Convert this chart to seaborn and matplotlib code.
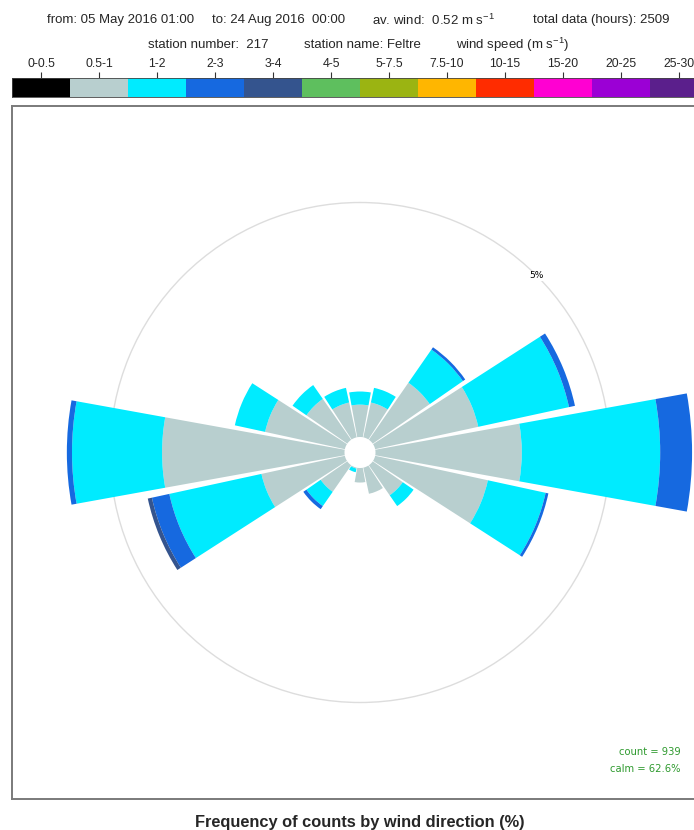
# Wind rose for the Feltre station (217), May-Aug 2016
# Frequency of counts by wind direction, stacked by wind speed class.

import numpy as np
import pandas as pd
import matplotlib
matplotlib.use("Agg")
import matplotlib.pyplot as plt
from matplotlib.colors import ListedColormap
import seaborn as sns

# --- data ---------------------------------------------------------------------

directions = ["N", "NNE", "NE", "ENE", "E", "ESE", "SE", "SSE",
              "S", "SSW", "SW", "WSW", "W", "WNW", "NW", "NNW"]
bearings = [0, 22.5, 45, 67.5, 90, 112.5, 135, 157.5,
            180, 202.5, 225, 247.5, 270, 292.5, 315, 337.5]

speed_bins = ["0-0.5", "0.5-1", "1-2", "2-3", "3-4", "4-5", "5-7.5",
              "7.5-10", "10-15", "15-20", "20-25", "25-30"]
bin_colors = ["#000000", "#B8CFCF", "#00EBFF", "#1669E0", "#34548E", "#5EBF5E",
              "#9BB412", "#FFB600", "#FF2C00", "#FF00D2", "#9B00D5", "#5B1F8C"]

# % of all hours, per direction (only the first speed classes are populated)
freq_0_05 = [0.0] * 16
freq_05_1 = [0.69, 0.76, 1.48, 2.25, 3.12, 2.46, 0.78, 0.57,
             0.31, 0.02, 0.69, 1.82, 3.89, 1.74, 1.06, 0.76]
freq_1_2 = [0.28, 0.32, 0.86, 1.98, 2.95, 1.26, 0.28, 0.0,
            0.0, 0.08, 0.37, 2.01, 1.92, 0.66, 0.36, 0.32]
freq_2_3 = [0.0, 0.0, 0.06, 0.13, 0.68, 0.06, 0.0, 0.0,
            0.0, 0.0, 0.08, 0.38, 0.11, 0.0, 0.0, 0.0]
freq_3_4 = [0.0, 0.0, 0.0, 0.0, 0.0, 0.0, 0.0, 0.0,
            0.0, 0.0, 0.0, 0.09, 0.0, 0.0, 0.0, 0.0]

grid_pct = 5
count = 939
calm = 62.6
header_1 = ["from: 05 May 2016 01:00", "to: 24 Aug 2016  00:00",
            "av. wind:  0.52 m s$^{\\mathregular{-1}}$", "total data (hours): 2509"]
header_2 = ["station number:  217", "station name: Feltre",
            "wind speed (m s$^{\\mathregular{-1}}$)"]

freq = pd.DataFrame({"0-0.5": freq_0_05, "0.5-1": freq_05_1, "1-2": freq_1_2,
                     "2-3": freq_2_3, "3-4": freq_3_4}, index=directions)
freq["bearing"] = bearings

# --- figure -------------------------------------------------------------------

sns.set_theme(style="white")
plt.rcParams["font.family"] = ["Liberation Sans", "DejaVu Sans"]
plt.rcParams["mathtext.default"] = "regular"

W, H = 694, 830
fig = plt.figure(figsize=(W / 100, H / 100), dpi=100)

def rect(x0, y0, x1, y1):
    # pixel box (top-left origin) -> figure fraction
    return [x0 / W, 1 - y1 / H, (x1 - x0) / W, (y1 - y0) / H]

# panel frame
frame = fig.add_axes(rect(12, 106, 708, 799))
frame.set_xticks([])
frame.set_yticks([])
for s in frame.spines.values():
    s.set_color("#7A7A7A")
    s.set_linewidth(1.4)

# rose
px_per_pct = 46.9
offset = 15.5 / px_per_pct
ax = fig.add_axes(rect(12, 106, 708, 799), projection="polar", facecolor="none")
ax.set_theta_zero_location("N")
ax.set_theta_direction(-1)
ax.set_ylim(0, 346.5 / px_per_pct)

theta = np.deg2rad(freq["bearing"].values)
bottom = np.full(len(freq), offset)
for name, color in zip(speed_bins, bin_colors):
    if name not in freq:
        continue
    vals = freq[name].values
    ax.bar(theta, vals, width=np.deg2rad(20.5), bottom=bottom,
           color=color, linewidth=0, align="center", zorder=3)
    bottom = bottom + vals

ax.set_xticks([])
ax.set_yticks([offset + grid_pct])
ax.set_yticklabels([])
ax.yaxis.grid(True, color="#DDDDDD", linewidth=1.0)
ax.xaxis.grid(False)
ax.set_axisbelow(True)
ax.spines["polar"].set_visible(False)
ax.text(np.deg2rad(45), offset + grid_pct, f"{grid_pct}%", ha="center", va="center",
        fontsize=6.5, color="black", zorder=4, family="DejaVu Sans",
        bbox=dict(facecolor="white", edgecolor="none", pad=0.5))

fig.text(681 / W, 1 - 752 / H, f"count = {count}", ha="right", va="center",
         color="#2F9A2F", fontsize=7.2, family="DejaVu Sans")
fig.text(681 / W, 1 - 769 / H, f"calm = {calm}%", ha="right", va="center",
         color="#2F9A2F", fontsize=7.2, family="DejaVu Sans")

# colour key
cax = fig.add_axes(rect(12, 78, 708, 97))
sns.heatmap(np.arange(len(speed_bins)).reshape(1, -1), cmap=ListedColormap(bin_colors),
            cbar=False, ax=cax, xticklabels=speed_bins, yticklabels=False)
cax.xaxis.tick_top()
cax.tick_params(axis="x", length=4, width=0.8, pad=2, labelsize=8.8,
                color="#333333", top=True, bottom=False)
plt.setp(cax.get_xticklabels(), rotation=0)
for s in cax.spines.values():
    s.set_visible(True)
    s.set_color("#444444")
    s.set_linewidth(0.6)

# header
for txt, x in zip(header_1, [47, 212, 372, 533]):
    fig.text(x / W, 1 - 20 / H, txt, ha="left", va="center", fontsize=9.5)
for txt, x in zip(header_2, [148, 304, 456]):
    fig.text(x / W, 1 - 45 / H, txt, ha="left", va="center", fontsize=9.5)

fig.text(360 / W, 1 - 822 / H, "Frequency of counts by wind direction (%)",
         ha="center", va="center", fontsize=11.8, fontweight="bold")

fig.savefig("out.png", dpi=100)
